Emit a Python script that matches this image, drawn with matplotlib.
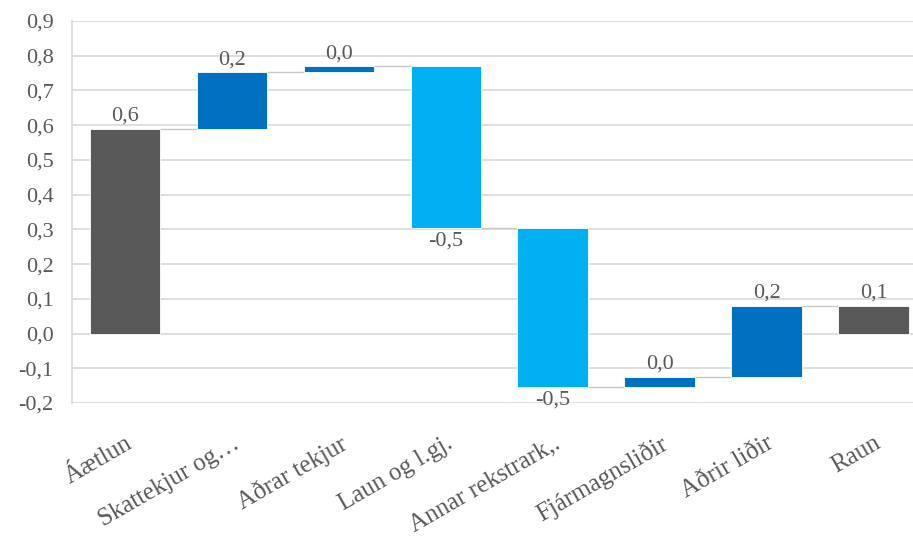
import matplotlib.pyplot as plt
from matplotlib.ticker import FuncFormatter
import numpy as np

categories = ['Áætlun', 'Skattekjur og…', 'Aðrar tekjur', 'Laun og l.gj.',
              'Annar rekstrark,.', 'Fjármagnsliðir', 'Aðrir liðir', 'Raun']
changes = [0.59, 0.162, 0.018, -0.467, -0.458, 0.031, 0.204, 0.08]
is_total = [True, False, False, False, False, False, False, True]

DARK = '#595959'
UP = '#0070C0'
DOWN = '#00B0F0'
GRID = '#d9d9d9'
TXT = '#595959'

plt.rcParams['font.family'] = ['Liberation Serif', 'DejaVu Serif']


def comma(v, pos=None):
    s = f'{v:.1f}'.replace('.', ',')
    if s == '-0,0':
        s = '0,0'
    return s


def main():
    fig = plt.figure(figsize=(9.13, 5.43), dpi=100)
    ax = fig.add_axes([0.0785, 0.2578, 0.9368, 0.7035])

    bottoms, tops, colors = [], [], []
    level = 0.0
    for v, tot in zip(changes, is_total):
        if tot:
            b, t = 0.0, v
            level = v
            c = DARK
        else:
            b, t = level, level + v
            level = t
            c = UP if v > 0 else DOWN
        bottoms.append(b)
        tops.append(t)
        colors.append(c)

    x = np.arange(len(categories))
    w = 0.66
    heights = [t - b for b, t in zip(bottoms, tops)]
    ax.bar(x, heights, bottom=bottoms, width=w, color=colors,
           edgecolor='white', linewidth=0.6, zorder=3)

    # connector lines between bars at the running level
    for i in range(len(x) - 1):
        ax.plot([x[i] + w / 2, x[i + 1] - w / 2], [tops[i], tops[i]],
                color='#c8c8c8', lw=1.0, zorder=2)

    # value labels
    for i, v in enumerate(changes):
        if v >= 0:
            ax.annotate(comma(v), (x[i], max(bottoms[i], tops[i])),
                        xytext=(0, 2), textcoords='offset points',
                        ha='center', va='bottom', fontsize=16, color=TXT)
        else:
            ax.annotate(comma(v), (x[i], min(bottoms[i], tops[i])),
                        xytext=(0, -2), textcoords='offset points',
                        ha='center', va='top', fontsize=16, color=TXT)

    ax.set_ylim(-0.2, 0.9)
    ax.set_xlim(-0.5, len(categories) - 0.5)
    ax.set_yticks(np.arange(-0.2, 0.91, 0.1))
    ax.yaxis.set_major_formatter(FuncFormatter(comma))
    ax.grid(axis='y', color=GRID, lw=1.2, zorder=0)
    ax.set_axisbelow(True)

    for s in ['top', 'right', 'bottom']:
        ax.spines[s].set_visible(False)
    ax.spines['left'].set_color(GRID)
    ax.spines['left'].set_linewidth(1.2)

    ax.set_xticks(x)
    ax.set_xticklabels(categories, rotation=30, ha='right',
                       rotation_mode='anchor')
    ax.tick_params(axis='x', length=0, pad=21, labelsize=18, labelcolor=TXT)
    ax.tick_params(axis='y', length=0, pad=13, labelsize=16, labelcolor=TXT)

    fig.savefig('out.png', dpi=100)


if __name__ == '__main__':
    main()
